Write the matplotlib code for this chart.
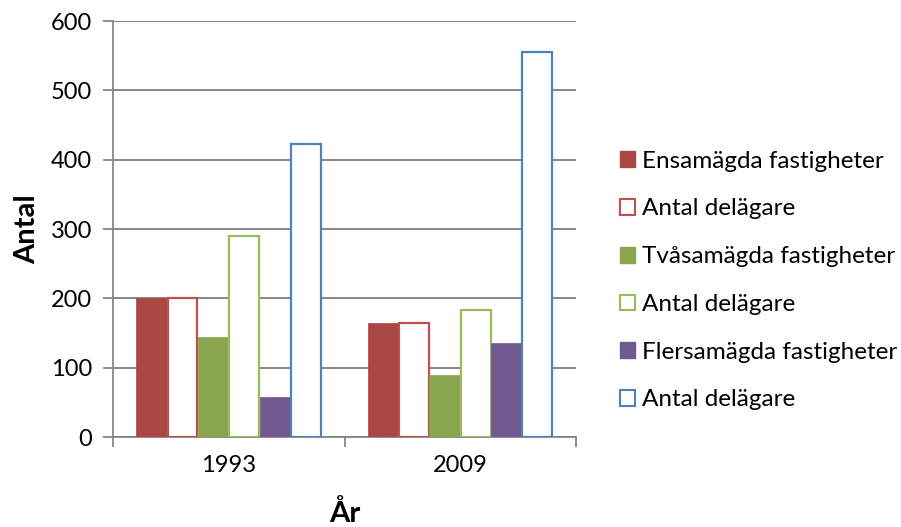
import matplotlib
matplotlib.use("Agg")
import matplotlib.pyplot as plt
from matplotlib.patches import Patch
import numpy as np

plt.rcParams['font.family'] = ['Lato', 'DejaVu Sans']

years = ["1993", "2009"]
series_names = ["Ensamägda fastigheter", "Antal delägare", "Tvåsamägda fastigheter",
                "Antal delägare", "Flersamägda fastigheter", "Antal delägare"]
ensam = [200, 164]
ensam_del = [200, 165]
tva = [144, 90]
tva_del = [290, 183]
fler = [58, 135]
fler_del = [423, 556]

series = [ensam, ensam_del, tva, tva_del, fler, fler_del]
colors = ["#AA4643", "#C0504D", "#89A54E", "#9BBB59", "#71588F", "#4F81BD"]
filled = [True, False, True, False, True, False]

fig = plt.figure(figsize=(9.01, 5.27), dpi=100)
ax = fig.add_axes([113/901, (527-437)/527, 463/901, 416/527])

x = np.arange(len(years))
w = 0.133
for i, (vals, c, f) in enumerate(zip(series, colors, filled)):
    off = (i - 2.5) * w
    if f:
        ax.bar(x + off, vals, w, color=c, edgecolor=c, linewidth=0.5, zorder=3)
    else:
        ax.bar(x + off, vals, w * 0.97, facecolor="white", edgecolor=c, linewidth=1.6, zorder=3)

ax.set_xlim(-0.5, 1.5)
ax.set_ylim(0, 600)
ax.set_yticks(range(0, 601, 100))
ax.set_xticks([-0.5, 0.5, 1.5], minor=False)
ax.set_xticklabels([])
ax.set_xticks(x, minor=True)
ax.set_xticklabels(years, minor=True)
ax.tick_params(axis='x', which='minor', length=0, labelsize=17, pad=13)
ax.tick_params(axis='x', which='major', length=7, width=1.3, color="#868686")
ax.tick_params(axis='y', length=7, width=1.3, color="#868686", labelsize=17, pad=8)
ax.grid(axis='y', color="#868686", linewidth=1.4, zorder=0)
for s in ["top", "right"]:
    ax.spines[s].set_visible(False)
for s in ["left", "bottom"]:
    ax.spines[s].set_color("#868686")
    ax.spines[s].set_linewidth(1.3)

ax.set_ylabel("Antal", fontsize=21, fontweight="bold", labelpad=8)
ax.set_xlabel("År", fontsize=21, fontweight="bold", labelpad=17)

handles = []
for c, f, n in zip(colors, filled, series_names):
    if f:
        handles.append(Patch(facecolor=c, edgecolor=c, label=n))
    else:
        handles.append(Patch(facecolor="white", edgecolor=c, linewidth=1.5, label=n))
fig.legend(handles=handles, loc="upper left", bbox_to_anchor=(610/901, 1 - 141/527),
           frameon=False, fontsize=17.5, handlelength=0.62, handleheight=0.62,
           handletextpad=0.3, labelspacing=1.1, borderaxespad=0)

fig.savefig("out.png", dpi=100)
